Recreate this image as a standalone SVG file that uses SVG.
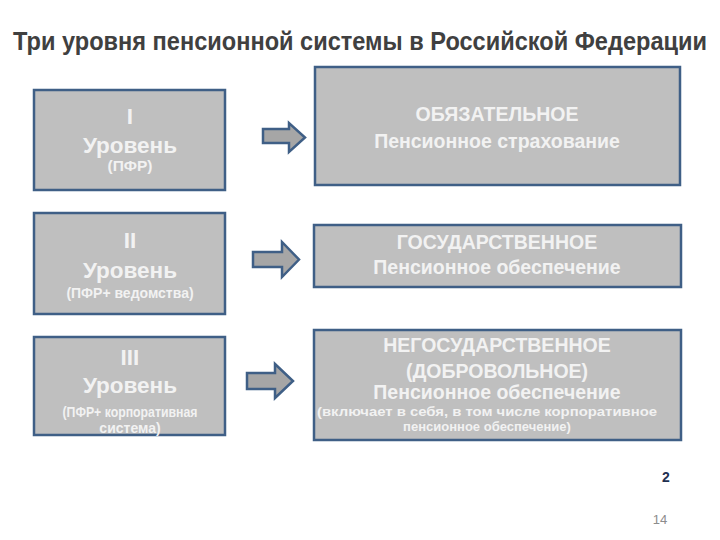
<svg xmlns="http://www.w3.org/2000/svg" width="720" height="540" viewBox="0 0 720 540">
<style>
.box{fill:#bfbfbf;stroke:#3f5f86;stroke-width:2.5}
.arr{fill:#a6a6a6;stroke:#3f5f86;stroke-width:2.5;stroke-linejoin:miter}
text{font-family:"Liberation Sans",Arial,sans-serif;font-weight:bold;fill:#f2f2f2;text-anchor:middle}
.big{font-size:22.5px}
.mid{font-size:19.5px}
.sm{font-size:14px}
.xs{font-size:13px}
</style>
<rect width="720" height="540" fill="#ffffff"/>
<g transform="translate(360,50) scale(0.9,1)">
<text x="0" y="0" style="font-size:25px;fill:#404040" textLength="771" lengthAdjust="spacingAndGlyphs">Три уровня пенсионной системы в Российской Федерации</text>
</g>
<g id="connectors">
<path class="arr" d="M263,129 H289 V123 L305,137.5 L289,152 V143 H263 Z"/>
<path class="arr" d="M253,252 H282 V242 L299,259.5 L282,277 V267 H253 Z"/>
<path class="arr" d="M247,373 H275 V364 L293,381 L275,398 V389 H247 Z"/>
</g>
<g id="level1">
<rect class="box" x="34" y="90" width="191" height="100"/>
<text class="big" x="130" y="124">I</text>
<text class="big" x="130" y="153">Уровень</text>
<text x="130" y="171" style="font-size:15.5px">(ПФР)</text>
</g>
<g id="level2">
<rect class="box" x="34" y="213" width="191" height="101"/>
<text class="big" x="130" y="248">II</text>
<text class="big" x="130" y="278">Уровень</text>
<text class="sm" x="130" y="298">(ПФР+ ведомства)</text>
</g>
<g id="level3">
<rect class="box" x="34" y="337" width="191" height="98"/>
<text class="big" x="130" y="365">III</text>
<text class="big" x="130" y="393">Уровень</text>
<text class="sm" x="130" y="417" textLength="135" lengthAdjust="spacingAndGlyphs">(ПФР+ корпоративная</text>
<text class="sm" x="130" y="433">система)</text>
</g>
<g id="mandatory">
<rect class="box" x="315" y="67" width="365" height="118"/>
<text class="mid" x="497" y="121">ОБЯЗАТЕЛЬНОЕ</text>
<text class="mid" x="497" y="148">Пенсионное страхование</text>
</g>
<g id="state">
<rect class="box" x="314" y="225" width="367" height="62"/>
<text class="mid" x="497" y="249">ГОСУДАРСТВЕННОЕ</text>
<text class="mid" x="497" y="274">Пенсионное обеспечение</text>
</g>
<g id="nonstate">
<rect class="box" x="314" y="330" width="367" height="110"/>
<text class="mid" x="497" y="352">НЕГОСУДАРСТВЕННОЕ</text>
<text class="mid" x="497" y="378">(ДОБРОВОЛЬНОЕ)</text>
<text class="mid" x="497" y="399">Пенсионное обеспечение</text>
<text class="xs" x="487" y="416" textLength="340" lengthAdjust="spacingAndGlyphs">(включает в себя,  в том числе  корпоративное</text>
<text class="xs" x="487" y="431">пенсионное обеспечение)</text>
</g>
<text x="666" y="482" style="font-size:14px;fill:#1f3050">2</text>
<text x="660" y="524" style="font-size:13px;fill:#8c8c8c;font-weight:normal">14</text>
</svg>
